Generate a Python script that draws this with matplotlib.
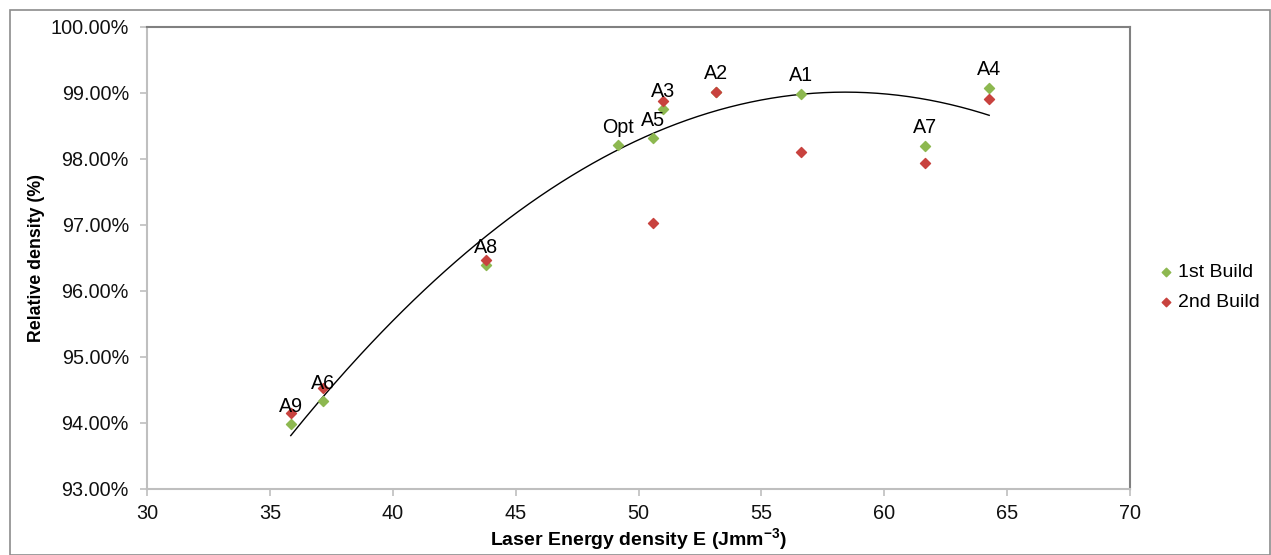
import numpy as np
import matplotlib
matplotlib.use("Agg")
import matplotlib.pyplot as plt
from matplotlib.patches import Rectangle
from matplotlib.ticker import FuncFormatter

plt.rcParams['font.family'] = ['Liberation Sans', 'DejaVu Sans']
plt.rcParams['mathtext.fontset'] = 'custom'
plt.rcParams['mathtext.rm'] = 'Liberation Sans'
plt.rcParams['mathtext.bf'] = 'Liberation Sans:bold'

labels = ['A9', 'A6', 'A8', 'Opt', 'A5', 'A3', 'A2', 'A1', 'A7', 'A4']
energy = [35.85, 37.15, 43.78, 49.15, 50.6, 50.98, 53.17, 56.63, 61.67, 64.27]
build1 = [93.98, 94.33, 96.39, 98.21, 98.32, 98.76, 99.02, 98.99, 98.20, 99.08]

energy2 = [35.85, 37.15, 43.78, 50.6, 50.98, 53.17, 56.63, 61.67, 64.27]
build2 = [94.15, 94.53, 96.47, 97.03, 98.88, 99.02, 98.11, 97.94, 98.91]

green = '#8db850'
red = '#c8423e'

fig = plt.figure(figsize=(12.71, 5.55), dpi=100)
ax = fig.add_axes([147/1271, 1-489/555, (1130-147)/1271, (489-27)/555])

# outer chart border
fig.add_artist(Rectangle((10/1271, 0), 1-10/1271-1/1271, 1-10/555, transform=fig.transFigure,
                         fill=False, edgecolor='#8c8c8c', linewidth=1.2))

ax.scatter(energy, build1, marker='D', s=26, color=green, label='1st Build', zorder=3)
ax.scatter(energy2, build2, marker='D', s=26, color=red, label='2nd Build', zorder=3)

# polynomial (order 2) trendline on 1st build
coef = np.polyfit(energy, build1, 2)
xs = np.linspace(min(energy), max(energy), 200)
ax.plot(xs, np.polyval(coef, xs), color='black', linewidth=1.0, zorder=2)

for lab, x, y in zip(labels, energy, build1):
    ax.annotate(lab, (x, y), xytext=(0, 6), textcoords='offset points',
                ha='center', va='bottom', fontsize=14.2)

ax.set_xlim(30, 70)
ax.set_ylim(93, 100)
ax.set_xticks(np.arange(30, 71, 5))
ax.set_yticks(np.arange(93, 100.1, 1))
ax.yaxis.set_major_formatter(FuncFormatter(lambda v, p: f'{v:.2f}%'))
ax.tick_params(axis='both', labelsize=14.3, length=5, width=1.2, colors='#111111')
ax.tick_params(axis='both', color='#bfbfbf')
ax.tick_params(axis='x', pad=6)
ax.tick_params(axis='y', pad=8)

for s in ['left', 'bottom']:
    ax.spines[s].set_color('#bfbfbf')
    ax.spines[s].set_linewidth(1.5)
for s in ['top', 'right']:
    ax.spines[s].set_color('#808080')
    ax.spines[s].set_linewidth(1.5)

ax.set_xlabel('Laser Energy density E (Jmm$^{\\mathbf{-3}}$)', fontsize=14, fontweight='bold', labelpad=2)
ax.set_ylabel('Relative density (%)', fontsize=12.8, fontweight='bold', labelpad=4)

fig.legend(loc='center left', bbox_to_anchor=(1160/1271, 1-287/555), bbox_transform=fig.transFigure,
           frameon=False, fontsize=14, handlelength=0.6, handletextpad=0.3,
           markerscale=0.85, labelspacing=0.62, borderaxespad=0, borderpad=0)

fig.savefig('out.png', dpi=100)
